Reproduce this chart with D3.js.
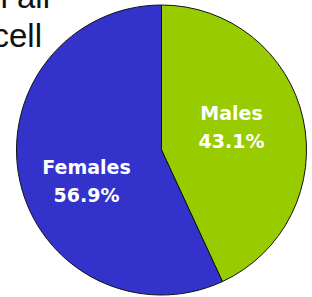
<!DOCTYPE html>
<html>
<head>
<meta charset="utf-8">
<script src="https://cdn.jsdelivr.net/npm/d3@7"></script>
<style>
  body { margin: 0; background: #fff; }
  svg { display: block; }
</style>
</head>
<body>
<div id="chart"></div>
<script>
// data
var groups = ["Males", "Females"];
var shares = [43.1, 56.9];
var colors = ["#99cc00", "#3333cc"];
var headLines = ["n all", "cell"];

var svgWidth = 312;
var svgHeight = 297;

var svg = d3.select("#chart")
  .append("svg")
  .attr("width", svgWidth)
  .attr("height", svgHeight);

// cropped heading text in the corner
svg.selectAll("text.head")
  .data(headLines)
  .enter()
  .append("text")
  .attr("class", "head")
  .attr("x", (d, i) => i == 0 ? 50 : 42)
  .attr("y", (d, i) => 8 + i * 39)
  .attr("text-anchor", "end")
  .style("font-family", "'Liberation Sans', Arial, sans-serif")
  .style("font-size", "33px")
  .style("fill", "#111")
  .text(d => d);

var cx = 161.5, cy = 150, radius = 145;

var pieGroup = svg.append("g")
  .attr("transform", `translate(${cx}, ${cy})`);

var pie = d3.pie().sort(null).value(d => d.value);
var arc = d3.arc().innerRadius(0).outerRadius(radius);

var data = groups.map((g, i) => ({ name: g, value: shares[i], color: colors[i] }));

pieGroup.selectAll("path")
  .data(pie(data))
  .enter()
  .append("path")
  .attr("d", arc)
  .attr("fill", d => d.data.color)
  .attr("stroke", "#111")
  .attr("stroke-width", 1);

// label positions inside slices
var labelPos = [[70, -30], [-75, 24]];

var labels = pieGroup.selectAll("text.lbl")
  .data(data)
  .enter()
  .append("text")
  .attr("class", "lbl")
  .attr("text-anchor", "middle")
  .attr("transform", (d, i) => `translate(${labelPos[i][0]}, ${labelPos[i][1]})`)
  .style("font-family", "'DejaVu Sans', sans-serif")
  .style("font-weight", "bold")
  .style("font-size", "19px")
  .style("fill", "#fff");

labels.append("tspan")
  .attr("x", 0)
  .attr("y", 0)
  .text(d => d.name);

labels.append("tspan")
  .attr("x", 0)
  .attr("y", 28)
  .text(d => d.value.toFixed(1) + "%");
</script>
</body>
</html>
